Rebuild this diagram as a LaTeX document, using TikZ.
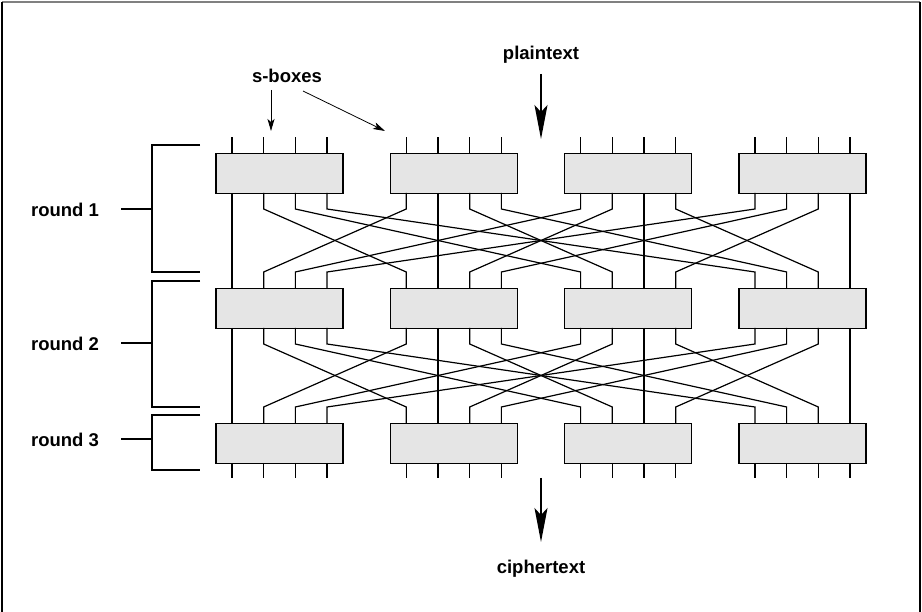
\documentclass[tikz,border=0pt]{standalone}
\usepackage{fontspec}
\setmainfont{Liberation Sans}
\usetikzlibrary{arrows.meta,calc}
\begin{document}
\begin{tikzpicture}[x=1pt,y=-1pt,line width=1.2pt,
    sbox/.style={draw,fill=black!10,minimum width=127pt,minimum height=40pt,inner sep=0pt},
    lab/.style={font=\fontsize{18.5}{22}\selectfont\bfseries,inner sep=0pt,anchor=base},
    pointer/.style={line width=0.8pt,-{Stealth[length=12pt,width=7pt,inset=3pt]}},
    bigarrow/.style={line width=1.3pt,-{Stealth[length=34pt,width=13pt,inset=7pt]}}]
    \useasboundingbox (0,0) rectangle (922,612);
    % frame
    \draw[black!50] (2,2) -- (920,2);
    \draw (2,2) -- (2,612);
    \draw (920,2) -- (920,612);
    % s-boxes, three rounds of four
    \foreach \r/\y in {1/153,2/288,3/423} {
        \foreach \b in {0,...,3} {
            \node[sbox,anchor=north] (s\r\b) at ({279.5+174.33*\b},\y) {};
            \foreach \j in {0,...,3} {
                \pgfmathsetmacro\wx{279.5+174.33*\b+31.7*(\j-1.5)}
                \coordinate (i\r\b\j) at (\wx,\y);
                \coordinate (o\r\b\j) at (\wx,\y+40);
            }
        }
    }
    % input and output stubs
    \foreach \b in {0,...,3} {
        \foreach \j in {0,...,3} {
            \draw (i1\b\j) -- ++(0,-16);
            \draw (o3\b\j) -- ++(0,15);
        }
    }
    % permutation: wire j of box b goes to wire b of box j
    \foreach \r/\n in {1/2,2/3} {
        \foreach \b in {0,...,3} {
            \foreach \j in {0,...,3} {
                \draw (o\r\b\j) -- ++(0,16) -- ($(i\n\j\b)+(0,-16)$) -- (i\n\j\b);
            }
        }
    }
    % brackets
    \draw (200,145) -| (152,272) -- (200,272);
    \draw (121,209) -- (152,209);
    \draw (200,281) -| (152,407) -- (200,407);
    \draw (121,343) -- (152,343);
    \draw (200,415) -| (152,470) -- (200,470);
    \draw (121,439) -- (152,439);
    \node[lab] (round1) at (65,217) {round 1};
    \node[lab] (round2) at (65,351) {round 2};
    \node[lab] (round3) at (65,447) {round 3};
    % labels and arrows
    \node[lab] (sblab) at (287,83) {s-boxes};
    \coordinate (sbtip1) at (271,131);
    \coordinate (sbtip2) at (385,131);
    \draw[pointer] ($(sblab.base)+(-16,7)$) -- (sbtip1);
    \draw[pointer] ($(sblab.base)+(16,8)$) -- (sbtip2);
    \node[lab] (ptlab) at (541,60) {plaintext};
    \coordinate (pttip) at (541,139);
    \draw[bigarrow] ($(ptlab.base)+(0,14)$) -- (pttip);
    \coordinate (ctstart) at (541,478);
    \node[lab] (ctlab) at (541,573) {ciphertext};
    \draw[bigarrow] (ctstart) -- ($(ctlab.base)+(0,-31)$);
\end{tikzpicture}
\end{document}
